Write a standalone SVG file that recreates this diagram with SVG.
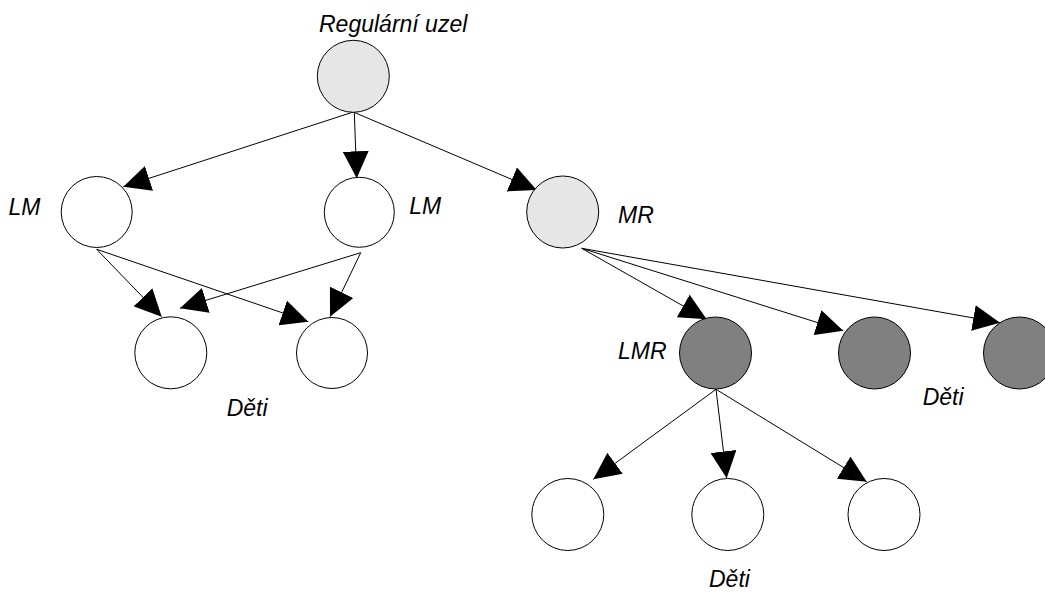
<svg xmlns="http://www.w3.org/2000/svg" width="1045" height="593" viewBox="0 0 1045 593">
<style>
.n{stroke:#000;stroke-width:1}
.w{fill:#fff}
.l{fill:#e6e6e6}
.d{fill:#808080}
.t{font-family:"Liberation Sans",Arial,sans-serif;font-style:italic;font-size:23px;fill:#000}
.c line{stroke:#000;stroke-width:1;marker-end:url(#a)}
</style>
<defs>
<marker id="a" markerUnits="userSpaceOnUse" markerWidth="28" markerHeight="26" refX="27" refY="13" orient="auto" viewBox="0 0 28 26">
<path d="M0,0 L27,13 L0,26 z" fill="#000"/>
</marker>
</defs>
<rect width="1045" height="593" fill="#fff"/>
<g id="connectors" class="c">
<line x1="353.3" y1="112" x2="123.3" y2="186.7"/>
<line x1="354.3" y1="112" x2="356.7" y2="178.3"/>
<line x1="353.3" y1="112" x2="536.7" y2="190"/>
<line x1="96.7" y1="249.3" x2="161.7" y2="316.7"/>
<line x1="96.7" y1="249.3" x2="308.3" y2="321.7"/>
<line x1="360.7" y1="252.7" x2="180" y2="308.3"/>
<line x1="360.7" y1="252.7" x2="330" y2="316.7"/>
<line x1="581.7" y1="248.3" x2="706.7" y2="319.3"/>
<line x1="581.7" y1="248.3" x2="843.3" y2="330.7"/>
<line x1="581.7" y1="248.3" x2="1000" y2="322.7"/>
<line x1="716" y1="389.3" x2="593.3" y2="479.3"/>
<line x1="716" y1="389.3" x2="726.7" y2="478.3"/>
<line x1="716" y1="389.3" x2="866.7" y2="481.7"/>
</g>
<g id="root"><circle class="n l" cx="353.3" cy="76.3" r="36"/></g>
<g id="lm1"><circle class="n w" cx="96.7" cy="212" r="35.5"/></g>
<g id="lm2"><circle class="n w" cx="359.3" cy="212.3" r="35"/></g>
<g id="mr"><circle class="n l" cx="562.7" cy="212" r="36"/></g>
<g id="c1"><circle class="n w" cx="170.8" cy="352.8" r="36"/></g>
<g id="c2"><circle class="n w" cx="332" cy="353" r="35.5"/></g>
<g id="lmr"><circle class="n d" cx="715.5" cy="353" r="36"/></g>
<g id="r2"><circle class="n d" cx="874.5" cy="353" r="36"/></g>
<g id="r3"><circle class="n d" cx="1019.5" cy="353" r="36"/></g>
<g id="b1"><circle class="n w" cx="567.8" cy="514.5" r="36"/></g>
<g id="b2"><circle class="n w" cx="727.8" cy="514.5" r="36"/></g>
<g id="b3"><circle class="n w" cx="884" cy="514.5" r="36"/></g>
<g id="labels">
<text class="t" x="319" y="31.5">Regulární uzel</text>
<text class="t" x="8.5" y="215">LM</text>
<text class="t" x="409.3" y="214">LM</text>
<text class="t" x="618" y="222.5">MR</text>
<text class="t" x="618" y="359">LMR</text>
<text class="t" x="226.7" y="415.5">Děti</text>
<text class="t" x="922.7" y="405">Děti</text>
<text class="t" x="709" y="587.3">Děti</text>
</g>
</svg>
